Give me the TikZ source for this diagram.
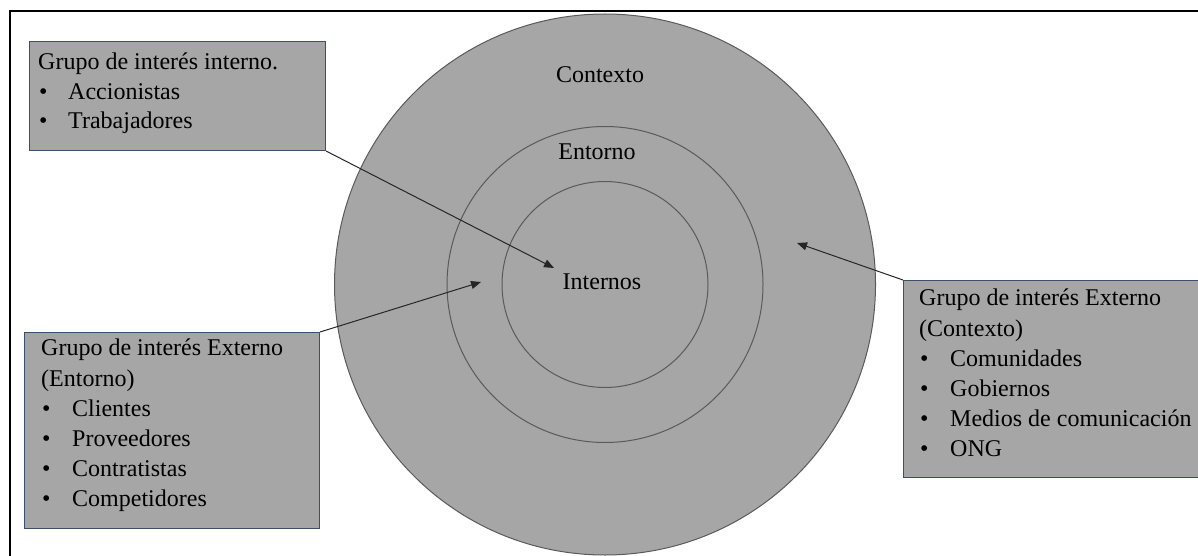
\documentclass[tikz,border=0pt]{standalone}
\usepackage{fontspec}
\setmainfont{Liberation Serif}
\usetikzlibrary{arrows.meta}
\definecolor{fillgray}{HTML}{A6A6A6}
\definecolor{ringline}{HTML}{5A5A5A}
\definecolor{boxline}{HTML}{3B4E6E}
\definecolor{arrowcol}{HTML}{262626}
\tikzset{
  ring/.style={circle, draw=ringline, line width=1pt, fill=fillgray, inner sep=0pt},
  infobox/.style={rectangle, draw=boxline, line width=1pt, fill=fillgray, anchor=north west, inner sep=0pt},
  txt/.style={anchor=base west, inner sep=0pt, font=\fontsize{24}{29}\selectfont, text=black},
  lbl/.style={inner sep=0pt, font=\fontsize{24}{29}\selectfont, text=black},
  conn/.style={draw=arrowcol, line width=1pt, -{Triangle[length=10pt,width=8pt]}}
}
\begin{document}
\begin{tikzpicture}[x=1pt,y=-1pt]
\useasboundingbox (0,0) rectangle (1198,556);
\draw[line width=2pt, black] (10,600) -- (10,11) -- (1250,11);
% rings
\node[ring, minimum size=541pt] (outer) at (605,284.5) {};
\node[ring, minimum size=316pt] (middle) at (605,284.5) {};
\node[ring, minimum size=206pt] (inner) at (605,284.5) {};
\node[lbl] (contexto) at (600,75) {Contexto};
\node[lbl] (entorno) at (597,152) {Entorno};
\node[lbl] (internos) at (602,282) {Internos};
% box 1
\node[infobox, minimum width=296pt, minimum height=109pt] (box1) at (29,41) {};
\node[txt] (b1l1) at (38,70) {Grupo de interés interno.};
\node[txt] (b1b1) at (39,100) {•};
\node[txt] (b1l2) at (68,100) {Accionistas};
\node[txt] (b1b2) at (39,129) {•};
\node[txt] (b1l3) at (68,129) {Trabajadores};
% box 2
\node[infobox, minimum width=295pt, minimum height=196pt] (box2) at (24,332) {};
\node[txt] (b2l1) at (41,355) {Grupo de interés Externo};
\node[txt] (b2l2) at (41,386) {(Entorno)};
\node[txt] (b2b1) at (42,416) {•};
\node[txt] (b2l3) at (72,416) {Clientes};
\node[txt] (b2b2) at (42,446) {•};
\node[txt] (b2l4) at (72,446) {Proveedores};
\node[txt] (b2b3) at (42,476) {•};
\node[txt] (b2l5) at (72,476) {Contratistas};
\node[txt] (b2b4) at (42,506) {•};
\node[txt] (b2l6) at (72,506) {Competidores};
% box 3
\node[infobox, minimum width=320pt, minimum height=197pt] (box3) at (903,280) {};
\node[txt] (b3l1) at (919,305) {Grupo de interés Externo};
\node[txt] (b3l2) at (919,336) {(Contexto)};
\node[txt] (b3b1) at (920,366) {•};
\node[txt] (b3l3) at (950,366) {Comunidades};
\node[txt] (b3b2) at (920,396) {•};
\node[txt] (b3l4) at (950,396) {Gobiernos};
\node[txt] (b3b3) at (920,426) {•};
\node[txt] (b3l5) at (950,426) {Medios de comunicación};
\node[txt] (b3b4) at (920,456) {•};
\node[txt] (b3l6) at (950,456) {ONG};
% arrows
\coordinate (tip1) at (554,268);
\coordinate (tip2) at (481,282);
\coordinate (tip3) at (797,243);
\draw[conn] (box1.south east) -- (tip1);
\draw[conn] (box2.north east) -- (tip2);
\draw[conn] (box3.north west) -- (tip3);
\end{tikzpicture}
\end{document}
